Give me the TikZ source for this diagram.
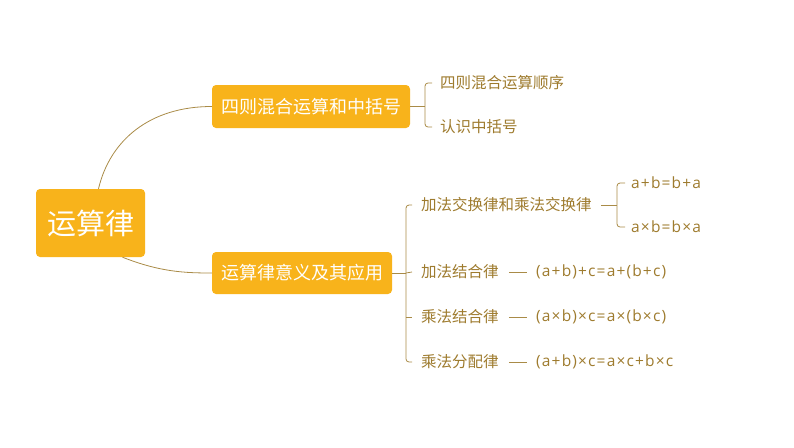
\documentclass[tikz,border=0pt]{standalone}
\usepackage{fontspec}
\setmainfont{Noto Sans CJK SC}
\newfontfamily\formfont[LetterSpace=7.5]{Open Sans}
\definecolor{boxc}{HTML}{F8B31B}
\definecolor{txtc}{HTML}{9E7B2E}
\definecolor{linec}{HTML}{A98B47}
\begin{document}
\begin{tikzpicture}[x=1pt,y=-1pt,
  rootbox/.style={fill=boxc,rounded corners=4pt,text=white,inner sep=0pt,minimum width=109pt,minimum height=68pt,font=\fontsize{29}{34}\selectfont},
  topicbox/.style={fill=boxc,rounded corners=4pt,text=white,inner sep=0pt,minimum height=43pt,font=\fontsize{18}{22}\selectfont},
  leaf/.style={anchor=west,inner sep=0pt,text=txtc,font=\fontsize{15.5}{19}\selectfont},
  formula/.style={anchor=west,inner sep=0pt,text=txtc,font=\formfont\fontsize{15.5}{19}\selectfont},
  conn/.style={draw=linec,line width=0.8pt},
  brk/.style={draw=linec,line width=0.8pt,rounded corners=3pt}]
\useasboundingbox (0,0) rectangle (794,447);
\node[rootbox] (root) at (90.5,223) {运算律};
\node[topicbox,minimum width=198pt] (b1) at (311,106.5) {四则混合运算和中括号};
\node[topicbox,minimum width=180pt,minimum height=42pt] (b2) at (302,273) {运算律意义及其应用};
\node[leaf] (c11) at (440,83) {四则混合运算顺序};
\node[leaf] (c12) at (440,127) {认识中括号};
\node[leaf] (c21) at (421,205) {加法交换律和乘法交换律};
\node[leaf] (c22) at (421,272) {加法结合律};
\node[leaf] (c23) at (421,317) {乘法结合律};
\node[leaf] (c24) at (421,362) {乘法分配律};
\node[formula] (d11) at (631,183) {a+b=b+a};
\node[formula] (d12) at (631,227) {a×b=b×a};
\node[formula] (e22) at (536,272) {(a+b)+c=a+(b+c)};
\node[formula] (e23) at (536,317) {(a×b)×c=a×(b×c)};
\node[formula] (e24) at (536,362) {(a+b)×c=a×c+b×c};
\coordinate (j1) at (425,106.5);
\coordinate (j2) at (406,273);
\coordinate (j3) at (617,205);
% main curves
\draw[conn] ([xshift=8pt]root.north) .. controls (110,140) and (150,106.5) .. (b1.west);
\draw[conn] ([xshift=32pt]root.south) .. controls (160,272) and (185,273) .. (b2.west);
% bracket 1
\draw[conn] (b1.east) -- (j1);
\draw[brk] ([xshift=-8pt]c11.west) -| (j1) |- ([xshift=-8pt]c12.west);
% bracket 2
\draw[conn] (b2.east) -- (j2);
\draw[brk] ([xshift=-9pt]c21.west) -| (j2) |- ([xshift=-9pt]c24.west);
\draw[conn] (j2) -- ([xshift=-9pt]c22.west);
\draw[conn] (j2 |- c23.west) -- ([xshift=-9pt]c23.west);
% dashes
\draw[conn] ([xshift=9pt]c21.east) -- (j3);
\draw[brk] ([xshift=-6pt]d11.west) -| (j3) |- ([xshift=-6pt]d12.west);
\draw[conn] ([xshift=10pt]c22.east) -- ([xshift=-9pt]e22.west);
\draw[conn] ([xshift=10pt]c23.east) -- ([xshift=-9pt]e23.west);
\draw[conn] ([xshift=10pt]c24.east) -- ([xshift=-9pt]e24.west);
\end{tikzpicture}
\end{document}
